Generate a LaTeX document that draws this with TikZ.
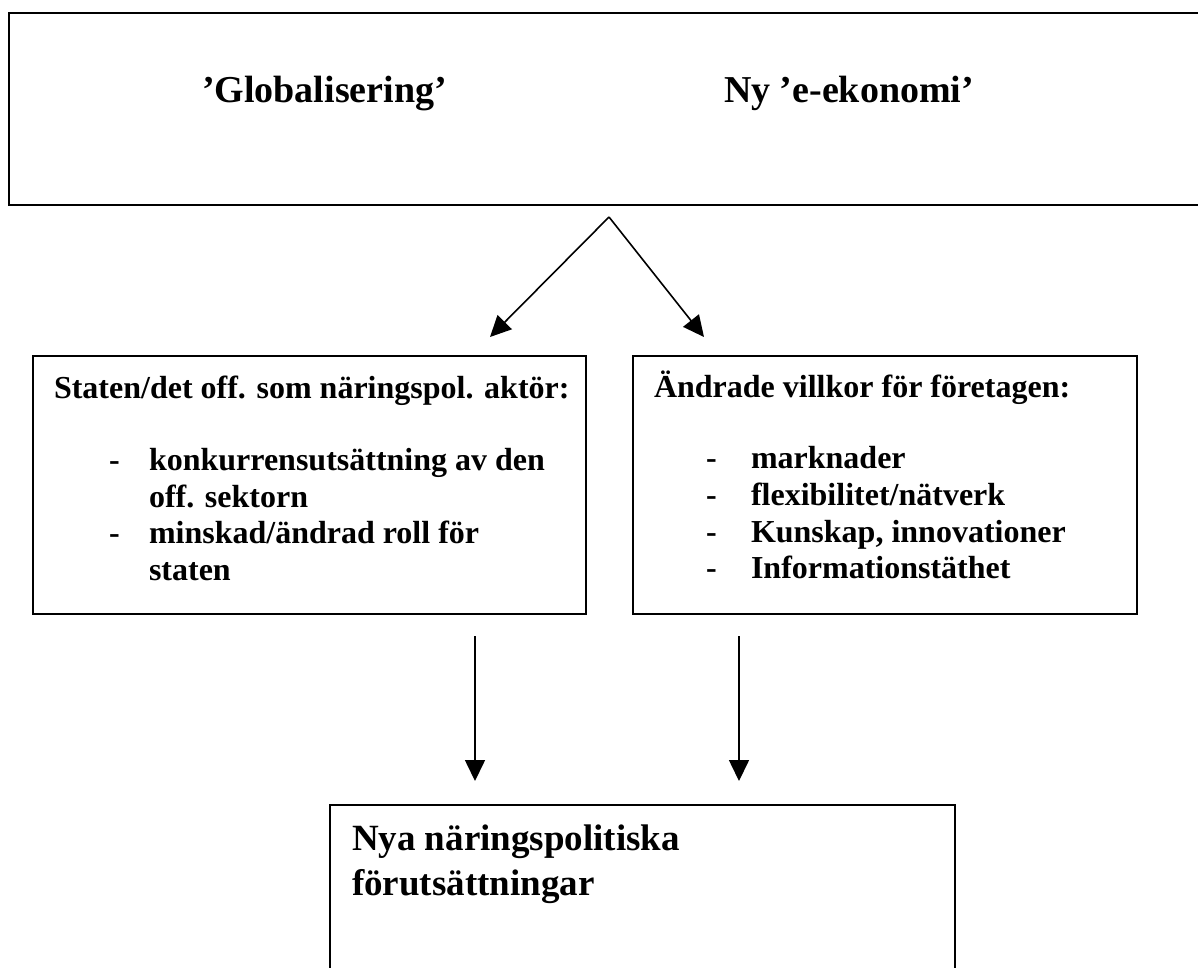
\documentclass[tikz,border=0pt]{standalone}
\usepackage{fontspec}
\setmainfont{Liberation Serif}
\usetikzlibrary{arrows.meta}
\tikzset{
  boxnode/.style={draw, line width=1.8pt, inner sep=0pt, outer sep=0pt, anchor=north west},
  txt/.style={anchor=base west, inner sep=0pt, outer sep=0pt, font=\fontsize{32}{36.8}\selectfont\bfseries},
  toptxt/.style={anchor=base west, inner sep=0pt, outer sep=0pt, font=\fontsize{38}{44}\selectfont\bfseries},
  bigtxt/.style={anchor=base west, inner sep=0pt, outer sep=0pt, font=\fontsize{37}{45}\selectfont\bfseries},
  arr/.style={line width=1.6pt, -{Triangle[length=21pt,width=20pt]}}
}
\begin{document}
\begin{tikzpicture}[x=1pt,y=-1pt]
\useasboundingbox (0,0) rectangle (1198,967);
\clip (0,0) rectangle (1198,967);
\fill[white] (0,0) rectangle (1198,967);
% top box (extends past right edge)
\node[boxnode, minimum width=1220pt, minimum height=192pt] (top) at (9,13) {};
\node[toptxt] (glob) at (202,102) {’Globalisering’};
\node[toptxt] (eek) at (724,102) {Ny ’e-ekonomi’};
% left box
\node[boxnode, minimum width=553pt, minimum height=258pt] (left) at (33,356) {};
\node[txt] (lt) at (54,398) {Staten/det off. som näringspol. aktör:};
\node[txt] (ld1) at (109,470) {-};
\node[txt] (l1) at (149,470) {konkurrensutsättning av den};
\node[txt] (l1b) at (149,507) {off. sektorn};
\node[txt] (ld2) at (109,543) {-};
\node[txt] (l2) at (149,543) {minskad/ändrad roll för};
\node[txt] (l2b) at (149,580) {staten};
% right box
\node[boxnode, minimum width=504pt, minimum height=258pt] (right) at (633,356) {};
\node[txt] (rt) at (654,397) {Ändrade villkor för företagen:};
\node[txt] (rd1) at (706,468) {-};
\node[txt] (r1) at (751,468) {marknader};
\node[txt] (rd2) at (706,505) {-};
\node[txt] (r2) at (751,505) {flexibilitet/nätverk};
\node[txt] (rd3) at (706,542) {-};
\node[txt] (r3) at (751,542) {Kunskap, innovationer};
\node[txt] (rd4) at (706,578) {-};
\node[txt] (r4) at (751,578) {Informationstäthet};
% bottom box (extends past bottom edge)
\node[boxnode, minimum width=625pt, minimum height=200pt] (bottom) at (330,805) {};
\node[bigtxt] (b1) at (352,850) {Nya näringspolitiska};
\node[bigtxt] (b2) at (352,895) {förutsättningar};
% connectors
\coordinate (apex) at (609,217);
\coordinate (tipL) at (490,337);
\coordinate (tipR) at (704,337);
\coordinate (vLs) at (475,636);
\coordinate (vLe) at (475,781);
\coordinate (vRs) at (739,636);
\coordinate (vRe) at (739,781);
\draw[arr] (apex) -- (tipL);
\draw[arr] (apex) -- (tipR);
\draw[arr] (vLs) -- (vLe);
\draw[arr] (vRs) -- (vRe);
\end{tikzpicture}
\end{document}
